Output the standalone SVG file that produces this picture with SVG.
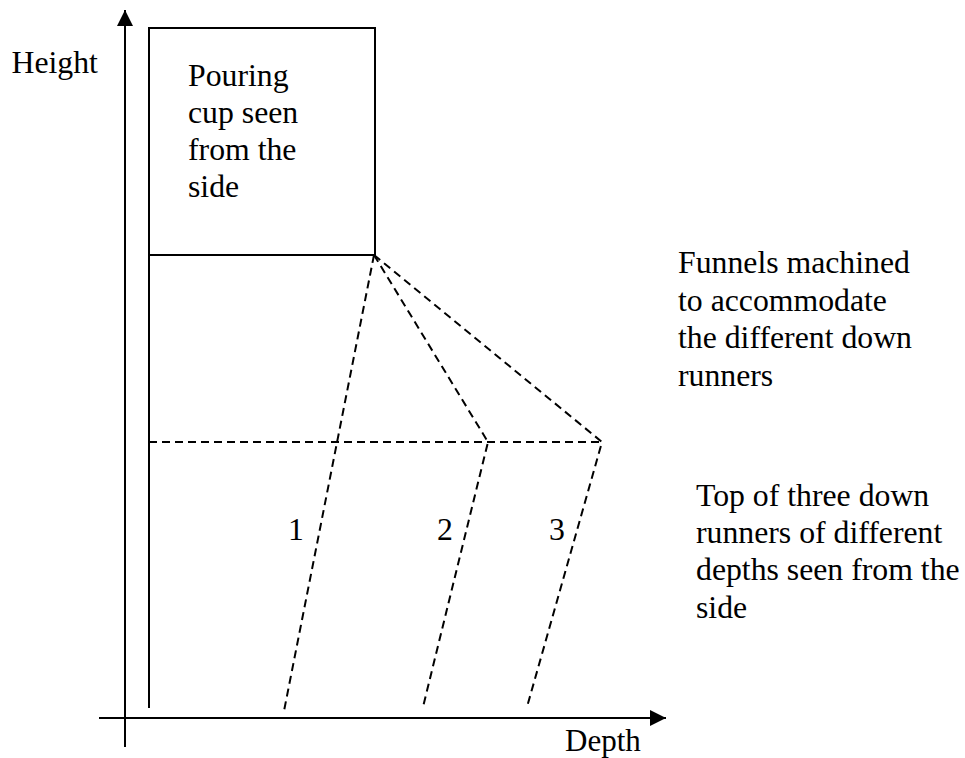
<svg xmlns="http://www.w3.org/2000/svg" width="965" height="758" viewBox="0 0 965 758">
<style>
text{font-family:"Liberation Serif","Times New Roman",serif;font-size:31.75px;fill:#000}
.s{fill:none;stroke:#000;stroke-width:2}
.d{fill:none;stroke:#000;stroke-width:2;stroke-dasharray:8 5}
</style>
<defs><marker id="a" markerUnits="userSpaceOnUse" markerWidth="16" markerHeight="16" refX="16" refY="8" orient="auto"><path d="M0 0L16 8L0 16Z" fill="#000"/></marker></defs>
<rect width="965" height="758" fill="#fff"/>
<g id="connectors">
<path class="s" d="M125 747V10" marker-end="url(#a)"/>
<path class="s" d="M99 718H666" marker-end="url(#a)"/>
<path class="s" d="M149 255V708"/>
<path class="d" d="M149 442H602"/>
<path class="d" d="M374 255L284 711"/>
<path class="d" d="M374 255L488 442L423 707"/>
<path class="d" d="M374 255L602 442L527 707"/>
</g>
<g id="cup"><path class="s" d="M149 255V28H375V255H149"/>
<text x="188" y="86">Pouring</text><text x="188" y="123">cup seen</text><text x="188" y="160">from the</text><text x="188" y="197">side</text></g>
<g id="axis-height"><text x="11.500" y="73">Height</text></g>
<g id="axis-depth"><text x="565" y="751" style="font-size:31px">Depth</text></g>
<g id="funnels"><text x="678" y="273">Funnels machined</text><text x="678" y="311">to accommodate</text><text x="678" y="348">the different down</text><text x="678" y="386">runners</text></g>
<g id="runners"><text x="696" y="506">Top of three down</text><text x="696" y="543">runners of different</text><text x="696" y="580">depths seen from the</text><text x="696" y="618">side</text></g>
<g id="r1"><text x="288" y="540">1</text></g>
<g id="r2"><text x="437" y="540">2</text></g>
<g id="r3"><text x="549" y="540">3</text></g>
</svg>
